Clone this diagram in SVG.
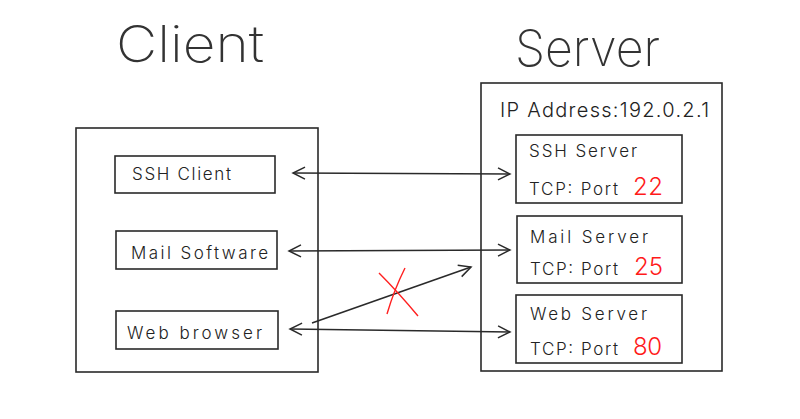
<svg xmlns="http://www.w3.org/2000/svg" width="800" height="419" viewBox="0 0 800 419">
  <style>
    .box { fill: none; stroke: #2a2a2a; stroke-width: 1.6; }
    .title { font-family: Inter, "Liberation Sans", sans-serif; font-weight: 200; font-size: 50px; fill: #333; }
    .lbl { font-family: Inter, "Liberation Sans", sans-serif; font-weight: 300; font-size: 17px; fill: #222; }
    .ip { font-family: Inter, "Liberation Sans", sans-serif; font-weight: 300; font-size: 20px; fill: #222; }
    .port { font-family: Inter, "Liberation Sans", sans-serif; font-weight: 300; font-size: 24px; fill: #ff1a1a; }
    .conn { fill: none; stroke: #2a2a2a; stroke-width: 1.6; }
    .cross { fill: none; stroke: #ff2020; stroke-width: 1.4; }
  </style>
  <defs>
    <marker id="arr" viewBox="-14 -8 16 16" refX="0" refY="0" markerWidth="16" markerHeight="16" markerUnits="userSpaceOnUse" orient="auto-start-reverse">
      <path d="M-12,-6 L0,0 L-12,6" fill="none" stroke="#2a2a2a" stroke-width="1.5"/>
    </marker>
  </defs>
  <rect width="800" height="419" fill="#ffffff"/>

  <g id="client">
    <text class="title" x="116" y="62" textLength="148" lengthAdjust="spacingAndGlyphs">Client</text>
    <rect class="box" x="76" y="128" width="242" height="244"/>
  </g>
  <g id="ssh-client">
    <rect class="box" x="115" y="156" width="160" height="37"/>
    <text class="lbl" x="132" y="180" textLength="99" lengthAdjust="spacing">SSH Client</text>
  </g>
  <g id="mail-software">
    <rect class="box" x="116" y="231" width="161" height="38"/>
    <text class="lbl" x="131" y="259" textLength="137" lengthAdjust="spacing">Mail Software</text>
  </g>
  <g id="web-browser">
    <rect class="box" x="116" y="311" width="162" height="38"/>
    <text class="lbl" x="127" y="339" textLength="135" lengthAdjust="spacing">Web browser</text>
  </g>

  <g id="server">
    <text class="title" x="515" y="66" textLength="145" lengthAdjust="spacingAndGlyphs">Server</text>
    <rect class="box" x="481" y="83" width="241" height="288"/>
    <text class="ip" x="500" y="117" textLength="209" lengthAdjust="spacing">IP Address:192.0.2.1</text>
  </g>
  <g id="ssh-server">
    <rect class="box" x="516" y="135" width="166" height="68"/>
    <text class="lbl" x="529" y="157" textLength="108" lengthAdjust="spacing">SSH Server</text>
    <text class="lbl" x="529" y="195" textLength="89" lengthAdjust="spacing">TCP: Port</text>
    <text class="port" x="633" y="195" textLength="30" lengthAdjust="spacing">22</text>
  </g>
  <g id="mail-server">
    <rect class="box" x="517" y="216" width="165" height="67"/>
    <text class="lbl" x="530" y="243" textLength="118" lengthAdjust="spacing">Mail Server</text>
    <text class="lbl" x="530" y="275" textLength="88" lengthAdjust="spacing">TCP: Port</text>
    <text class="port" x="634" y="275" textLength="29" lengthAdjust="spacing">25</text>
  </g>
  <g id="web-server">
    <rect class="box" x="516" y="295" width="166" height="68"/>
    <text class="lbl" x="530" y="320" textLength="117" lengthAdjust="spacing">Web Server</text>
    <text class="lbl" x="530" y="355" textLength="88" lengthAdjust="spacing">TCP: Port</text>
    <text class="port" x="633" y="355" textLength="29" lengthAdjust="spacing">80</text>
  </g>

  <g id="connectors">
    <line class="conn" x1="293" y1="173" x2="510" y2="174" marker-start="url(#arr)" marker-end="url(#arr)"/>
    <line class="conn" x1="289" y1="251" x2="510" y2="250" marker-start="url(#arr)" marker-end="url(#arr)"/>
    <line class="conn" x1="290" y1="329" x2="510" y2="332" marker-start="url(#arr)" marker-end="url(#arr)"/>
    <line class="conn" x1="312" y1="323" x2="471" y2="267" marker-end="url(#arr)"/>
    <path class="cross" d="M379,273 Q398,292 418,316 M405,268 Q394,290 387,314"/>
  </g>
</svg>
